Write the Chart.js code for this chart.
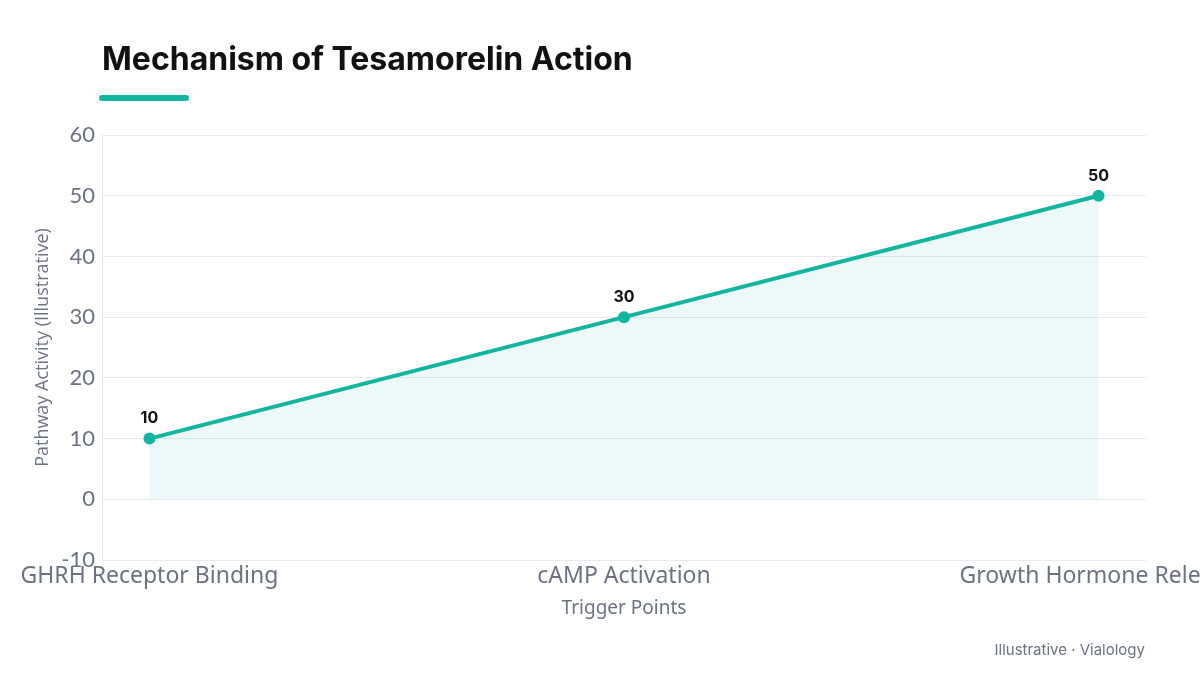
<!DOCTYPE html>
<html>
<head>
<meta charset="utf-8">
<script src="https://cdn.jsdelivr.net/npm/chart.js@4.4.1/dist/chart.umd.min.js"></script>
<style>
    html, body { margin: 0; padding: 0; background: #fff; overflow: hidden; width: 1200px; height: 675px; }
    #title { position: absolute; left: 102px; top: 39px; font: 700 32px Inter, "Noto Sans", sans-serif; color: #111; }
    #bar { position: absolute; left: 99px; top: 95px; width: 90px; height: 6px; border-radius: 3px; background: #13b5a1; }
    #footer { position: absolute; right: 55px; top: 640px; font: 400 15px Inter, "Noto Sans", sans-serif; color: #6b7280; }
    #wrap { position: absolute; left: 0; top: 0; width: 1400px; height: 675px; }
</style>
</head>
<body>
<div id="wrap"><canvas id="chart"></canvas></div>
<div id="title">Mechanism of Tesamorelin Action</div>
<div id="bar"></div>
<div id="footer">Illustrative · Vialology</div>
<script>
    const categories = ['GHRH Receptor Binding', 'cAMP Activation', 'Growth Hormone Release'];
    const activityValues = [10, 30, 50];
    const yTicks = [-10, 0, 10, 20, 30, 40, 50, 60];

    const teal = '#13b5a1';
    const gray = '#6b7280';
    const gridColor = '#e8ebee';

    // value labels above each point
    const valueLabels = {
        id: 'valueLabels',
        afterDatasetsDraw(chart) {
            const ctx = chart.ctx;
            const meta = chart.getDatasetMeta(0);
            ctx.save();
            ctx.font = '700 16px Inter, "Noto Sans", sans-serif';
            ctx.fillStyle = '#111';
            ctx.textAlign = 'center';
            ctx.textBaseline = 'bottom';
            meta.data.forEach((pt, i) => {
                ctx.fillText(String(activityValues[i]), pt.x, pt.y - 12);
            });
            ctx.restore();
        }
    };

    new Chart(document.getElementById('chart'), {
        type: 'line',
        data: {
            datasets: [{
                data: categories.map((c, i) => ({ x: i, y: activityValues[i] })),
                borderColor: teal,
                borderWidth: 4,
                backgroundColor: 'rgba(19,181,161,0.08)',
                fill: 'origin',
                pointRadius: 6,
                pointBackgroundColor: teal,
                pointBorderColor: teal,
                pointBorderWidth: 0,
                tension: 0
            }]
        },
        options: {
            responsive: true,
            maintainAspectRatio: false,
            animation: false,
            layout: { padding: { top: 135, left: 0, right: 254, bottom: 55 } },
            plugins: { legend: { display: false }, tooltip: { enabled: false } },
            scales: {
                x: {
                    type: 'linear',
                    min: -0.1,
                    max: 2.1,
                    afterBuildTicks: axis => { axis.ticks = categories.map((c, i) => ({ value: i })); },
                    afterFit: axis => { axis.height = 60; },
                    grid: { display: false, drawTicks: false },
                    border: { display: false },
                    ticks: {
                        callback: v => categories[v],
                        color: gray,
                        font: { family: '"Noto Sans", sans-serif', size: 23 },
                        padding: 3,
                        maxRotation: 0,
                        autoSkip: false
                    },
                    title: {
                        display: true,
                        text: 'Trigger Points',
                        color: gray,
                        font: { family: '"Noto Sans", sans-serif', size: 19 },
                        padding: { top: 0, bottom: 0 }
                    }
                },
                y: {
                    min: -10,
                    max: 60,
                    afterBuildTicks: axis => { axis.ticks = yTicks.map(v => ({ value: v })); },
                    afterFit: axis => { axis.width = 102; },
                    grid: { color: gridColor, lineWidth: 1, drawTicks: false },
                    border: { display: true, color: gridColor },
                    ticks: {
                        color: gray,
                        font: { family: 'Lato, "Open Sans", sans-serif', size: 22 },
                        padding: 7
                    },
                    title: {
                        display: true,
                        text: 'Pathway Activity (Illustrative)',
                        color: gray,
                        font: { family: '"Open Sans", sans-serif', size: 18 },
                        padding: { top: 32, bottom: 0 }
                    }
                }
            }
        },
        plugins: [valueLabels]
    });
</script>
</body>
</html>
